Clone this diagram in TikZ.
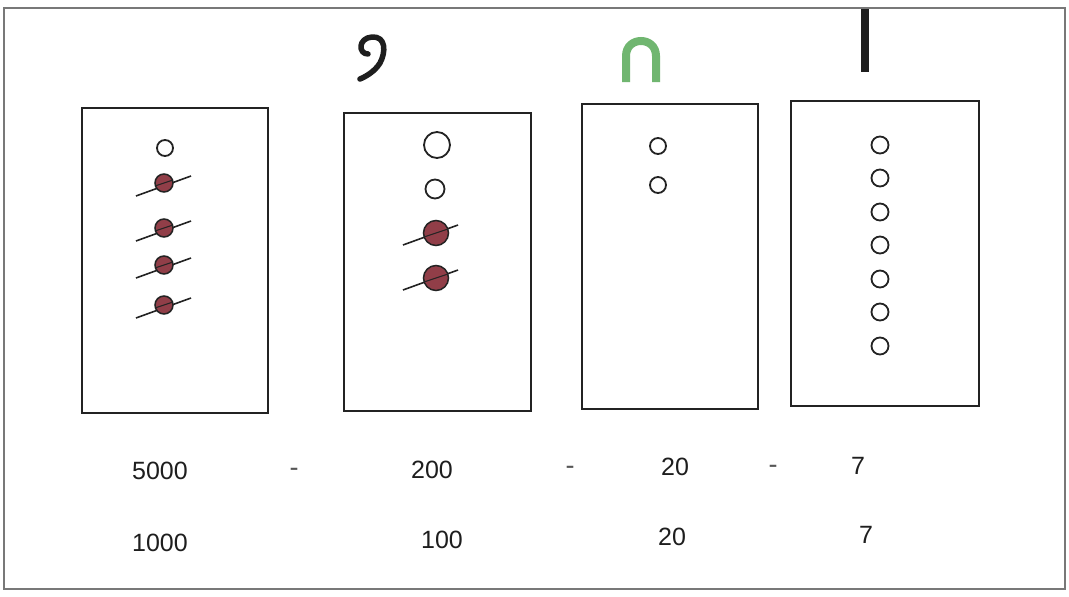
\documentclass[tikz,border=0pt]{standalone}
\usepackage{fontspec}
\setmainfont{Liberation Sans}
\definecolor{boxline}{RGB}{35,35,35}
\definecolor{frameline}{RGB}{120,120,120}
\definecolor{bead}{RGB}{145,62,72}
\definecolor{archgreen}{RGB}{112,182,112}
\definecolor{ink}{RGB}{30,30,30}
\begin{document}
\begin{tikzpicture}[x=1pt,y=-1pt,
  boxframe/.style={draw=boxline,line width=2.4pt},
  openbead/.style={draw=boxline,line width=1.8pt,fill=white},
  fullbead/.style={draw=boxline,line width=1.5pt,fill=bead},
  rod/.style={draw=boxline,line width=1.6pt},
  numtext/.style={font=\fontsize{25}{30}\selectfont,text=ink,inner sep=0pt},
  dashtext/.style={font=\fontsize{27}{30}\selectfont,text=ink!75,inner sep=0pt}]
\useasboundingbox (0,0) rectangle (1069,597);
\fill[white] (0,0) rectangle (1069,597);
% outer frame
\draw[frameline,line width=2pt] (4,8) rectangle (1065,589);
% boxes
\draw[boxframe] (82,108) rectangle (268,413);
\draw[boxframe] (344,113) rectangle (531,411);
\draw[boxframe] (582,104) rectangle (758,409);
\draw[boxframe] (791,101) rectangle (979,406);
% top symbols
\draw[ink,line width=5.5pt,line cap=round,line join=round]
  (368,54) .. controls (358,54) and (358,38) .. (372,37)
  .. controls (386,36) and (386,52) .. (380,63)
  .. controls (375,71) and (367,76) .. (360,79);
\draw[archgreen,line width=8pt]
  (626,82) -- (626,56) .. controls (626,36) and (656,36) .. (656,56) -- (656,82);
\fill[ink] (861,9) rectangle (869,72);
% box 1 beads
\draw[openbead] (165,148) circle (8);
\foreach \y in {183,228,265,305}{
  \draw[rod] (136,\y+13) -- (191,\y-7);
  \draw[fullbead] (164,\y) circle (9);
  \draw[rod,line width=1pt] (155,\y+3) -- (173,\y-3);
}
% box 2 beads
\draw[openbead] (437,145) circle (13);
\draw[openbead] (435,189) circle (9.5);
\foreach \y in {233,278}{
  \draw[rod] (403,\y+12) -- (458,\y-8);
  \draw[fullbead] (436,\y) circle (12.5);
  \draw[rod,line width=1pt] (424,\y+4) -- (448,\y-4);
}
% box 3 beads
\draw[openbead] (658,146) circle (8);
\draw[openbead] (658,185) circle (8);
% box 4 beads
\foreach \y in {145,178,212,245,279,312,346}{
  \draw[openbead] (880,\y) circle (8.5);
}
% numbers
\node[numtext] (n5000) at (160,471) {5000};
\node[dashtext] (d1) at (294,472) {-};
\node[numtext] (n200) at (432,470) {200};
\node[dashtext] (d2) at (570,470) {-};
\node[numtext] (n20a) at (675,467) {20};
\node[dashtext] (d3) at (773,469) {-};
\node[numtext] (n7a) at (858,466) {7};
\node[numtext] (n1000) at (160,543) {1000};
\node[numtext] (n100) at (442,540) {100};
\node[numtext] (n20b) at (672,537) {20};
\node[numtext] (n7b) at (866,535) {7};
\end{tikzpicture}
\end{document}
